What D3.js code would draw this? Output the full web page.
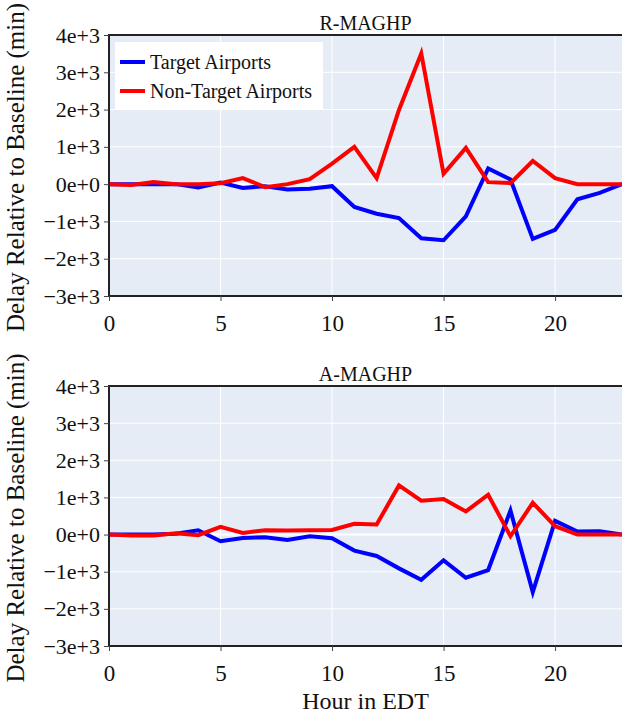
<!DOCTYPE html>
<html>
<head>
<meta charset="utf-8">
<script src="https://cdn.jsdelivr.net/npm/d3@7"></script>
</head>
<body style="margin:0;padding:0;background:#fff;">
<svg id="chart" width="622" height="724" font-family="Liberation Serif" style="display:block"></svg>
<script>
// Hours of the day (EDT)
const hours = d3.range(0, 24);

// Y axis ticks (minutes)
const yTicks = [-3000, -2000, -1000, 0, 1000, 2000, 3000, 4000];
const xTicks = [0, 5, 10, 15, 20];

// Panel titles
const panelTitles = ["R-MAGHP", "A-MAGHP"];

// Series names
const seriesNames = ["Target Airports", "Non-Target Airports"];

// R-MAGHP: delay relative to baseline (min)
const rTarget = [0, 0, 0, 0, -90, 45, -100, -55, -145, -125, -55, -613, -793, -910, -1450, -1505, -865, 423, 126, -1470, -1225, -405, -234, 0];
const rNonTarget = [0, -20, 54, 0, 0, 27, 162, -80, 0, 135, 550, 1000, 162, 1990, 3505, 280, 973, 54, 27, 621, 162, 0, 0, 0];

// A-MAGHP: delay relative to baseline (min)
const aTarget = [0, 0, 0, 20, 117, -180, -90, -72, -144, -45, -100, -432, -577, -910, -1216, -694, -1162, -955, 649, -1550, 369, 81, 90, 0];
const aNonTarget = [0, -27, -27, 36, -18, 207, 45, 117, 108, 117, 126, 288, 270, 1324, 910, 955, 622, 1072, -45, 856, 225, 0, 0, 0];

const FONT = "Liberation Serif";
const panels = [
  { title: panelTitles[0], series: [rTarget, rNonTarget], top: 35, bottom: 296, legend: true },
  { title: panelTitles[1], series: [aTarget, aNonTarget], top: 386, bottom: 646, legend: false }
];
const colors = ["#0000ff", "#ff0000"];

const left = 109, right = 622;
const svg = d3.select("#chart");

const x = d3.scaleLinear().domain([0, 23]).range([left, right]);
const fmt = d3.format(".0e");

function styleText(sel, size) {
  sel.attr("font-family", FONT).attr("font-size", size).attr("fill", "#111");
}

panels.forEach(p => {
  const y = d3.scaleLinear().domain([-3000, 4000]).range([p.bottom, p.top]);
  const g = svg.append("g");

  // Plot background
  g.append("rect")
    .attr("x", left).attr("y", p.top)
    .attr("width", right - left).attr("height", p.bottom - p.top)
    .attr("fill", "#e5ecf6");

  // Grid lines
  g.append("g").selectAll("line").data(yTicks).join("line")
    .attr("x1", left).attr("x2", right)
    .attr("y1", d => y(d)).attr("y2", d => y(d))
    .attr("stroke", "#fff").attr("stroke-width", d => d === 0 ? 2 : 1);
  g.append("g").selectAll("line").data(xTicks.filter(d => d > 0)).join("line")
    .attr("x1", d => x(d)).attr("x2", d => x(d))
    .attr("y1", p.top).attr("y2", p.bottom)
    .attr("stroke", "#fff").attr("stroke-width", 1);

  // Series lines
  const line = d3.line().x((d, i) => x(hours[i])).y(d => y(d));
  p.series.forEach((s, i) => {
    g.append("path")
      .datum(s)
      .attr("d", line)
      .attr("fill", "none")
      .attr("stroke", colors[i])
      .attr("stroke-width", 4)
      .attr("stroke-linejoin", "miter");
  });

  // Frame
  g.append("rect")
    .attr("x", left).attr("y", p.top)
    .attr("width", right - left + 2).attr("height", p.bottom - p.top)
    .attr("fill", "none").attr("stroke", "#222").attr("stroke-width", 2);

  // Y axis
  const yAxis = d3.axisLeft(y).tickValues(yTicks).tickFormat(fmt).tickSize(5).tickPadding(4);
  const ya = g.append("g").attr("transform", `translate(${left},0)`).call(yAxis)
    .attr("font-family", FONT);
  ya.select(".domain").remove();
  ya.selectAll(".tick line").attr("stroke", "#444");
  styleText(ya.selectAll(".tick text"), 22);

  // X axis
  const xAxis = d3.axisBottom(x).tickValues(xTicks).tickSize(5).tickPadding(14);
  const xa = g.append("g").attr("transform", `translate(0,${p.bottom})`).call(xAxis)
    .attr("font-family", FONT);
  xa.select(".domain").remove();
  xa.selectAll(".tick line").attr("stroke", "#444");
  styleText(xa.selectAll(".tick text"), 23);

  // Panel title
  styleText(g.append("text")
    .attr("x", (left + right) / 2).attr("y", p.top - 5)
    .attr("text-anchor", "middle")
    .text(p.title), 20);

  // Y axis title
  styleText(g.append("text")
    .attr("transform", `translate(24,${(p.top + p.bottom) / 2 + 2}) rotate(-90)`)
    .attr("text-anchor", "middle")
    .text("Delay Relative to Baseline (min)"), 25);

  // Legend
  if (p.legend) {
    const lg = g.append("g");
    lg.append("rect")
      .attr("x", 115).attr("y", 42).attr("width", 208).attr("height", 67)
      .attr("fill", "#fff");
    seriesNames.forEach((name, i) => {
      const ly = 62 + i * 29;
      lg.append("line")
        .attr("x1", 120).attr("x2", 145).attr("y1", ly).attr("y2", ly)
        .attr("stroke", colors[i]).attr("stroke-width", 4);
      styleText(lg.append("text")
        .attr("x", 150).attr("y", ly).attr("dy", "0.35em")
        .text(name), 20);
    });
  }
});

// X axis title
styleText(svg.append("text")
  .attr("x", (left + right) / 2).attr("y", 709)
  .attr("text-anchor", "middle")
  .text("Hour in EDT"), 24);
</script>
</body>
</html>
